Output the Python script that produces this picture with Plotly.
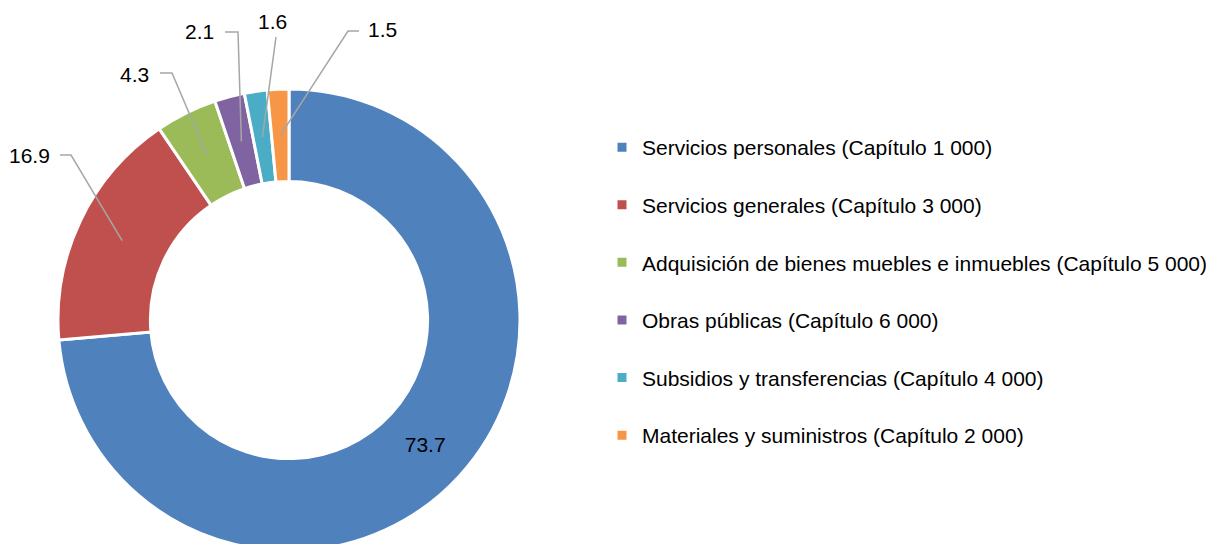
import math
import plotly.graph_objects as go

# ---- data ----
categories = [
    "Servicios personales (Capítulo 1 000)",
    "Servicios generales (Capítulo 3 000)",
    "Adquisición de bienes muebles e inmuebles (Capítulo 5 000)",
    "Obras públicas (Capítulo 6 000)",
    "Subsidios y transferencias (Capítulo 4 000)",
    "Materiales y suministros (Capítulo 2 000)",
]
values = [73.7, 16.9, 4.3, 2.1, 1.6, 1.5]
value_labels = ["73.7", "16.9", "4.3", "2.1", "1.6", "1.5"]

# ---- style / layout ----
colors = ["#4F81BD", "#C0504D", "#9BBB59", "#8064A2", "#4BACC6", "#F79646"]
W, H = 1228, 544
OFF = 8                      # page body margin offset (px)
CX, CY, R = 289, 320, 231    # pie centre and outer radius in screen px
HOLE = 0.6
FONT = "Liberation Sans, Arial, sans-serif"

# outside label placement (screen px): text x, text y, xanchor, elbow (x,y), tail x
outside_layout = {
    1: dict(tx=52, ty=155, anchor="right", ex=71, ey=155, tail=60),
    2: dict(tx=151, ty=74, anchor="right", ex=172, ey=73, tail=160),
    3: dict(tx=216, ty=32, anchor="right", ex=238, ey=32, tail=225),
    4: dict(tx=272, ty=21, anchor="center", ex=276, ey=37, tail=276),
    5: dict(tx=366, ty=30, anchor="left", ex=348, ey=31, tail=359),
}


def px(x):
    return (x - OFF) / W


def py(y):
    return 1 - (y - OFF) / H


total = sum(values)
cum = 0
mid_angles = []
for v in values:
    mid_angles.append((cum + v / 2) / total * 2 * math.pi)
    cum += v

fig = go.Figure()
fig.add_trace(go.Pie(
    labels=[c + "<br> " for c in categories],
    values=values,
    text=[value_labels[0]] + [""] * (len(values) - 1),
    textinfo="text",
    textposition="inside",
    insidetextorientation="horizontal",
    insidetextfont=dict(family=FONT, size=21, color="#000000"),
    hole=HOLE,
    sort=False,
    direction="clockwise",
    rotation=0,
    marker=dict(colors=colors, line=dict(color="#FFFFFF", width=3)),
    domain=dict(x=[px(CX - R), px(CX + R)], y=[py(CY + R), py(CY - R)]),
    hoverinfo="skip",
))

shapes = []
annotations = []
r_mid = R * (1 + HOLE) / 2
for i, lay in outside_layout.items():
    a = mid_angles[i]
    sx = CX + r_mid * math.sin(a)
    sy = CY - r_mid * math.cos(a)
    path = f"M{px(sx)},{py(sy)} L{px(lay['ex'])},{py(lay['ey'])} L{px(lay['tail'])},{py(lay['ey'])}"
    shapes.append(dict(type="path", xref="paper", yref="paper", path=path,
                       line=dict(color="#A6A6A6", width=1.5)))
    annotations.append(dict(x=px(lay["tx"]), y=py(lay["ty"]), xref="paper", yref="paper",
                            text=value_labels[i], showarrow=False,
                            xanchor=lay["anchor"], yanchor="middle",
                            font=dict(family=FONT, size=21, color="#000000")))

fig.update_layout(
    width=W, height=H,
    margin=dict(l=0, r=0, t=0, b=0),
    paper_bgcolor="#FFFFFF",
    plot_bgcolor="#FFFFFF",
    shapes=shapes,
    annotations=annotations,
    showlegend=True,
    legend=dict(
        x=px(602), y=py(127), xanchor="left", yanchor="top",
        font=dict(family=FONT, size=21, color="#000000"),
        valign="top",
        bgcolor="rgba(0,0,0,0)",
        traceorder="normal",
    ),
)

fig.write_html("out.html")
